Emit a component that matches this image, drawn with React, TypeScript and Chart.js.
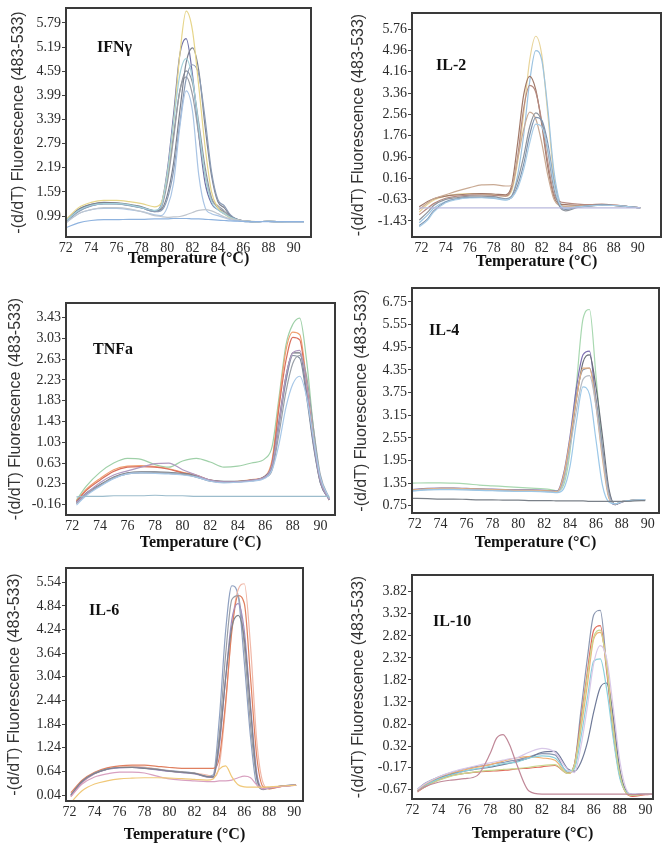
import React, { useEffect, useRef } from "react";
import { Chart, registerables } from "chart.js";

Chart.register(...registerables);

// ---------------- DATA ----------------
const xTickValues = [72, 74, 76, 78, 80, 82, 84, 86, 88, 90];
const xTickLabels = ["72", "74", "76", "78", "80", "82", "84", "86", "88", "90"];

// IFNγ
const ifnTemps = [72, 73, 74, 75, 76, 77, 78, 79, 79.5, 80, 80.5, 81, 81.5, 82, 82.5, 83, 83.5, 84, 84.5, 85, 86, 87, 88, 89, 90, 90.8];
const ifnA = [0.86, 1.15, 1.28, 1.32, 1.31, 1.27, 1.2, 1.12, 1.2, 1.9, 3.0, 4.1, 4.6, 4.3, 3.3, 2.2, 1.45, 1.2, 1.1, 0.98, 0.87, 0.85, 0.86, 0.85, 0.84, 0.84];
const ifnB = [0.9, 1.2, 1.33, 1.38, 1.38, 1.35, 1.3, 1.22, 1.3, 2.0, 3.3, 5.0, 6.08, 5.6, 4.2, 2.7, 1.6, 1.2, 1.05, 0.95, 0.87, 0.85, 0.86, 0.85, 0.84, 0.84];
const ifnC = [0.85, 1.12, 1.25, 1.3, 1.3, 1.26, 1.2, 1.12, 1.25, 2.1, 3.5, 5.0, 5.4, 4.5, 3.0, 1.8, 1.3, 1.15, 1.05, 0.95, 0.86, 0.85, 0.86, 0.85, 0.84, 0.84];
const ifnD = [0.88, 1.16, 1.28, 1.33, 1.32, 1.28, 1.22, 1.12, 1.15, 1.5, 2.3, 3.6, 4.8, 5.17, 4.6, 3.2, 2.0, 1.35, 1.2, 1.0, 0.87, 0.85, 0.86, 0.85, 0.84, 0.84];
const ifnE = [0.84, 1.1, 1.24, 1.29, 1.29, 1.25, 1.19, 1.1, 1.12, 1.4, 2.1, 3.3, 4.4, 4.75, 4.5, 3.4, 2.1, 1.4, 1.25, 1.02, 0.87, 0.85, 0.86, 0.85, 0.84, 0.84];
const ifnF = [0.87, 1.13, 1.26, 1.3, 1.3, 1.27, 1.2, 1.13, 1.22, 2.0, 3.3, 4.5, 4.9, 4.4, 3.2, 2.0, 1.35, 1.15, 1.05, 0.96, 0.86, 0.85, 0.86, 0.85, 0.84, 0.84];
const ifnG = [0.82, 1.05, 1.15, 1.18, 1.18, 1.15, 1.1, 1.02, 1.0, 1.2, 1.8, 3.2, 4.1, 3.6, 2.0, 1.2, 1.05, 1.0, 0.95, 0.9, 0.86, 0.85, 0.86, 0.85, 0.84, 0.84];
const ifnH = [0.86, 1.14, 1.27, 1.31, 1.3, 1.26, 1.19, 1.1, 1.18, 1.8, 2.9, 4.1, 4.45, 4.0, 3.0, 2.0, 1.4, 1.25, 1.12, 0.98, 0.87, 0.85, 0.86, 0.85, 0.84, 0.84];
const ifnI = [0.7, 0.82, 0.88, 0.9, 0.9, 0.91, 0.91, 0.92, 0.92, 0.92, 0.93, 0.93, 0.93, 0.92, 0.92, 0.91, 0.9, 0.89, 0.88, 0.87, 0.86, 0.85, 0.85, 0.85, 0.85, 0.85];
const ifnJ = [0.82, 1.05, 1.15, 1.2, 1.2, 1.17, 1.1, 1.0, 0.98, 0.96, 0.97, 0.98, 1.02, 1.08, 1.13, 1.15, 1.12, 1.05, 0.97, 0.92, 0.87, 0.85, 0.86, 0.85, 0.84, 0.84];
const ifnYTicks = [0.99, 1.59, 2.19, 2.79, 3.39, 3.99, 4.59, 5.19, 5.79];
const ifnYLabels = ["0.99", "1.59", "2.19", "2.79", "3.39", "3.99", "4.59", "5.19", "5.79"];

// IL-2
const il2Temps = [71.8, 72.5, 73, 74, 75, 76, 77, 78, 79, 79.5, 80, 80.5, 81, 81.5, 82, 82.5, 83, 83.5, 84, 85, 86, 87, 88, 89, 90.2];
const il2A = [-1.1, -0.8, -0.65, -0.5, -0.42, -0.4, -0.42, -0.45, -0.5, -0.3, 0.8, 2.6, 4.6, 5.49, 4.8, 2.6, 0.3, -0.75, -0.9, -0.88, -0.86, -0.84, -0.85, -0.88, -0.94];
const il2B = [-1.5, -1.2, -0.95, -0.7, -0.6, -0.55, -0.55, -0.58, -0.65, -0.5, 0.3, 1.8, 3.8, 4.95, 4.6, 2.8, 0.5, -0.7, -0.95, -0.9, -0.87, -0.84, -0.85, -0.88, -0.94];
const il2C = [-0.9, -0.7, -0.6, -0.5, -0.45, -0.42, -0.4, -0.42, -0.45, -0.1, 1.5, 3.3, 3.99, 3.5, 2.2, 0.6, -0.5, -0.8, -0.82, -0.85, -0.86, -0.84, -0.85, -0.88, -0.94];
const il2D = [-1.2, -0.95, -0.78, -0.58, -0.5, -0.46, -0.45, -0.47, -0.5, -0.2, 1.0, 2.8, 3.65, 3.4, 2.3, 0.8, -0.4, -0.7, -0.75, -0.8, -0.82, -0.8, -0.83, -0.88, -0.94];
const il2E = [-1.0, -0.75, -0.6, -0.45, -0.3, -0.18, -0.08, -0.07, -0.12, -0.1, 0.9, 2.0, 2.65, 2.4, 1.5, 0.3, -0.6, -0.85, -0.88, -0.86, -0.85, -0.84, -0.85, -0.88, -0.94];
const il2F = [-1.4, -1.1, -0.85, -0.62, -0.55, -0.5, -0.5, -0.52, -0.6, -0.5, 0.1, 1.0, 2.1, 2.62, 2.3, 1.2, -0.2, -0.9, -1.05, -0.92, -0.86, -0.83, -0.85, -0.88, -0.94];
const il2G = [-1.6, -1.35, -1.05, -0.72, -0.6, -0.55, -0.55, -0.56, -0.62, -0.55, -0.1, 0.7, 1.8, 2.45, 2.35, 1.5, 0.1, -0.85, -1.0, -0.9, -0.86, -0.83, -0.85, -0.88, -0.94];
const il2H = [-1.65, -1.4, -1.1, -0.75, -0.62, -0.57, -0.56, -0.57, -0.63, -0.55, -0.2, 0.5, 1.5, 2.2, 2.1, 1.3, 0.0, -0.8, -0.95, -0.9, -0.86, -0.84, -0.85, -0.88, -0.94];
const il2I = [-0.94, -0.94, -0.94, -0.94, -0.94, -0.94, -0.94, -0.94, -0.94, -0.94, -0.94, -0.94, -0.94, -0.94, -0.94, -0.94, -0.94, -0.94, -0.94, -0.94, -0.94, -0.94, -0.94, -0.94, -0.94];
const il2YTicks = [-1.43, -0.63, 0.16, 0.96, 1.76, 2.56, 3.36, 4.16, 4.96, 5.76];
const il2YLabels = ["-1.43", "-0.63", "0.16", "0.96", "1.76", "2.56", "3.36", "4.16", "4.96", "5.76"];

// TNFa
const tnfTemps = [72.3, 73, 74, 75, 76, 77, 78, 79, 80, 81, 82, 83, 84, 85, 86, 86.5, 87, 87.5, 88, 88.5, 89, 89.5, 90, 90.65];
const tnfA = [-0.12, 0.05, 0.21, 0.36, 0.44, 0.46, 0.46, 0.45, 0.43, 0.38, 0.3, 0.28, 0.28, 0.3, 0.38, 0.6, 1.45, 2.3, 2.75, 2.75, 2.0, 1.0, 0.25, -0.08];
const tnfB = [-0.1, 0.12, 0.33, 0.5, 0.57, 0.58, 0.56, 0.52, 0.45, 0.4, 0.3, 0.27, 0.28, 0.31, 0.38, 0.7, 1.8, 2.8, 3.15, 3.1, 2.2, 1.1, 0.3, -0.08];
const tnfC = [-0.11, 0.1, 0.3, 0.47, 0.55, 0.56, 0.55, 0.51, 0.44, 0.39, 0.3, 0.27, 0.27, 0.3, 0.37, 0.65, 1.7, 2.6, 3.05, 3.0, 2.1, 1.05, 0.28, -0.08];
const tnfD = [-0.08, 0.18, 0.45, 0.63, 0.72, 0.7, 0.6, 0.55, 0.67, 0.72, 0.65, 0.55, 0.57, 0.63, 0.72, 0.95, 1.9, 2.9, 3.3, 3.42, 2.6, 1.3, 0.35, -0.05];
const tnfE = [-0.13, 0.04, 0.25, 0.4, 0.48, 0.55, 0.62, 0.63, 0.5, 0.4, 0.3, 0.27, 0.27, 0.3, 0.37, 0.6, 1.4, 2.3, 2.75, 2.8, 2.1, 1.05, 0.28, -0.08];
const tnfF = [-0.18, 0.0, 0.18, 0.33, 0.42, 0.44, 0.43, 0.42, 0.4, 0.36, 0.28, 0.25, 0.26, 0.28, 0.34, 0.5, 1.0, 1.7, 2.15, 2.3, 1.9, 1.1, 0.35, -0.05];
const tnfG = [-0.14, 0.03, 0.2, 0.35, 0.43, 0.45, 0.45, 0.44, 0.42, 0.37, 0.29, 0.26, 0.27, 0.29, 0.35, 0.5, 1.2, 2.0, 2.55, 2.7, 2.3, 1.3, 0.4, -0.05];
const tnfH = [-0.15, 0.02, 0.19, 0.34, 0.42, 0.44, 0.44, 0.43, 0.41, 0.36, 0.28, 0.26, 0.27, 0.29, 0.36, 0.55, 1.35, 2.2, 2.7, 2.65, 1.9, 0.95, 0.25, -0.08];
const tnfI = [-0.02, -0.01, -0.01, 0, 0, 0, 0.01, 0, 0, -0.01, -0.01, -0.01, -0.01, -0.01, -0.01, -0.01, -0.01, -0.01, -0.01, -0.01, -0.01, -0.01, -0.01, -0.01];
const tnfYTicks = [-0.16, 0.23, 0.63, 1.03, 1.43, 1.83, 2.23, 2.63, 3.03, 3.43];
const tnfYLabels = ["-0.16", "0.23", "0.63", "1.03", "1.43", "1.83", "2.23", "2.63", "3.03", "3.43"];

// IL-4
const il4Temps = [71.8, 73, 74, 75, 76, 77, 78, 79, 80, 81, 82, 82.5, 83, 83.5, 84, 84.5, 85, 85.5, 86, 86.5, 87, 87.5, 88, 89, 89.8];
const il4A = [1.18, 1.21, 1.22, 1.22, 1.21, 1.2, 1.19, 1.18, 1.17, 1.17, 1.16, 1.15, 1.14, 1.6, 2.6, 3.9, 4.75, 4.85, 3.5, 2.2, 1.0, 0.78, 0.85, 0.9, 0.91];
const il4B = [1.16, 1.19, 1.2, 1.2, 1.19, 1.18, 1.17, 1.16, 1.15, 1.15, 1.14, 1.13, 1.12, 1.45, 2.4, 3.6, 4.55, 4.75, 3.9, 2.6, 1.2, 0.78, 0.86, 0.9, 0.91];
const il4C = [1.17, 1.2, 1.21, 1.21, 1.2, 1.19, 1.18, 1.17, 1.16, 1.16, 1.15, 1.14, 1.13, 1.55, 2.5, 3.6, 4.4, 4.4, 3.4, 2.0, 0.95, 0.8, 0.86, 0.9, 0.91];
const il4D = [1.15, 1.18, 1.19, 1.19, 1.18, 1.17, 1.16, 1.15, 1.14, 1.14, 1.13, 1.12, 1.11, 1.4, 2.3, 3.3, 4.1, 4.2, 3.4, 2.1, 1.0, 0.8, 0.86, 0.9, 0.91];
const il4E = [1.14, 1.17, 1.18, 1.18, 1.17, 1.16, 1.15, 1.14, 1.13, 1.13, 1.12, 1.11, 1.1, 1.2, 1.8, 3.0, 3.9, 3.7, 2.5, 1.3, 0.85, 0.8, 0.86, 0.9, 0.91];
const il4F = [1.35, 1.36, 1.36, 1.35, 1.33, 1.3, 1.28, 1.26, 1.24, 1.22, 1.2, 1.18, 1.15, 1.3, 2.2, 4.0, 5.7, 5.95, 4.2, 2.3, 1.0, 0.8, 0.86, 0.9, 0.91];
const il4G = [1.17, 1.2, 1.21, 1.21, 1.2, 1.19, 1.18, 1.17, 1.16, 1.16, 1.15, 1.14, 1.13, 1.5, 2.5, 3.7, 4.35, 4.4, 3.6, 2.3, 1.1, 0.8, 0.86, 0.9, 0.91];
const il4H = [0.95, 0.94, 0.93, 0.93, 0.92, 0.91, 0.91, 0.9, 0.9, 0.89, 0.89, 0.89, 0.88, 0.88, 0.88, 0.88, 0.88, 0.87, 0.87, 0.87, 0.87, 0.87, 0.87, 0.88, 0.89];
const il4YTicks = [0.75, 1.35, 1.95, 2.55, 3.15, 3.75, 4.35, 4.95, 5.55, 6.15];
const il4YLabels = ["0.75", "1.35", "1.95", "2.55", "3.15", "3.75", "4.35", "4.95", "5.55", "6.75"];

// IL-6
const il6Temps = [72.1, 73, 74, 75, 76, 77, 78, 79, 80, 81, 82, 83, 83.5, 84, 84.5, 85, 85.5, 86, 86.5, 87, 87.5, 88, 89, 90.15];
const il6A = [0.05, 0.4, 0.6, 0.7, 0.74, 0.75, 0.73, 0.7, 0.66, 0.63, 0.6, 0.52, 0.55, 2.0, 4.2, 5.35, 5.1, 3.4, 1.5, 0.3, 0.2, 0.23, 0.27, 0.29];
const il6B = [0.0, 0.35, 0.58, 0.7, 0.75, 0.77, 0.75, 0.7, 0.65, 0.62, 0.6, 0.55, 0.5, 0.8, 2.3, 4.3, 5.25, 5.4, 3.8, 1.4, 0.35, 0.2, 0.26, 0.29];
const il6C = [0.02, 0.38, 0.6, 0.7, 0.74, 0.75, 0.73, 0.69, 0.65, 0.62, 0.6, 0.5, 0.5, 1.6, 3.6, 5.0, 5.1, 3.8, 1.8, 0.45, 0.18, 0.22, 0.27, 0.29];
const il6D = [0.03, 0.37, 0.58, 0.69, 0.73, 0.74, 0.72, 0.68, 0.64, 0.61, 0.58, 0.5, 0.48, 1.3, 3.0, 4.5, 4.9, 4.2, 2.3, 0.6, 0.2, 0.22, 0.27, 0.29];
const il6E = [0.04, 0.39, 0.59, 0.7, 0.74, 0.74, 0.72, 0.69, 0.65, 0.62, 0.59, 0.51, 0.5, 1.4, 3.0, 4.3, 4.6, 4.0, 2.2, 0.5, 0.19, 0.22, 0.27, 0.29];
const il6F = [0.1, 0.42, 0.62, 0.73, 0.78, 0.8, 0.8, 0.77, 0.74, 0.72, 0.72, 0.72, 0.72, 1.0, 2.4, 4.2, 5.1, 4.9, 3.0, 1.0, 0.25, 0.2, 0.26, 0.3];
const il6G = [-0.15, 0.15, 0.32, 0.4, 0.45, 0.47, 0.48, 0.48, 0.47, 0.46, 0.44, 0.42, 0.45, 0.7, 0.78, 0.5, 0.3, 0.25, 0.24, 0.24, 0.24, 0.25, 0.27, 0.29];
const il6H = [0.0, 0.32, 0.5, 0.58, 0.62, 0.62, 0.6, 0.52, 0.45, 0.42, 0.4, 0.38, 0.38, 0.4, 0.4, 0.42, 0.48, 0.52, 0.48, 0.3, 0.2, 0.22, 0.26, 0.29];
const il6YTicks = [0.04, 0.64, 1.24, 1.84, 2.44, 3.04, 3.64, 4.24, 4.84, 5.44];
const il6YLabels = ["0.04", "0.64", "1.24", "1.84", "2.44", "3.04", "3.64", "4.24", "4.84", "5.54"];

// IL-10
const il10Temps = [72.4, 73, 74, 75, 76, 77, 78, 78.5, 79, 79.5, 80, 81, 82, 83, 84, 84.5, 85, 85.5, 86, 86.5, 87, 87.5, 88, 88.5, 89, 90, 90.5];
const il10A = [-0.65, -0.52, -0.38, -0.28, -0.2, -0.14, -0.1, -0.07, -0.05, -0.02, 0.0, 0.08, 0.15, 0.12, -0.28, -0.1, 1.1, 2.3, 3.3, 3.4, 2.1, 0.7, -0.3, -0.72, -0.77, -0.76, -0.77];
const il10B = [-0.72, -0.6, -0.45, -0.35, -0.3, -0.27, -0.25, -0.24, -0.23, -0.22, -0.2, -0.18, -0.15, -0.12, -0.3, -0.1, 0.9, 2.0, 2.95, 3.05, 2.0, 0.6, -0.35, -0.75, -0.82, -0.78, -0.77];
const il10C = [-0.68, -0.55, -0.4, -0.3, -0.22, -0.16, -0.1, -0.06, -0.02, 0.02, 0.05, 0.08, 0.05, 0.0, -0.3, -0.15, 0.7, 1.7, 2.75, 2.9, 2.2, 0.9, -0.2, -0.7, -0.78, -0.77, -0.77];
const il10D = [-0.7, -0.58, -0.43, -0.33, -0.25, -0.19, -0.14, -0.11, -0.08, -0.06, -0.05, 0.05, 0.1, 0.05, -0.25, -0.2, 0.5, 1.4, 2.25, 2.3, 1.6, 0.5, -0.4, -0.72, -0.78, -0.77, -0.77];
const il10E = [-0.7, -0.58, -0.42, -0.32, -0.25, -0.2, -0.16, -0.13, -0.1, -0.07, -0.03, 0.05, 0.18, 0.2, -0.2, -0.25, -0.05, 0.4, 1.1, 1.65, 1.75, 1.0, -0.2, -0.7, -0.78, -0.77, -0.77];
const il10F = [-0.66, -0.53, -0.38, -0.27, -0.19, -0.12, -0.06, -0.03, 0.0, 0.03, 0.05, 0.18, 0.27, 0.18, -0.22, -0.28, 0.3, 1.2, 2.2, 2.6, 2.3, 1.2, 0.0, -0.65, -0.77, -0.77, -0.77];
const il10G = [-0.7, -0.6, -0.5, -0.45, -0.42, -0.35, 0.15, 0.5, 0.58, 0.35, -0.05, -0.7, -0.77, -0.77, -0.77, -0.77, -0.77, -0.77, -0.77, -0.77, -0.77, -0.77, -0.77, -0.77, -0.78, -0.77, -0.77];
const il10H = [-0.7, -0.6, -0.46, -0.36, -0.3, -0.26, -0.23, -0.22, -0.21, -0.2, -0.19, -0.16, -0.12, -0.1, -0.3, -0.12, 0.8, 1.9, 2.8, 2.95, 2.1, 0.7, -0.3, -0.74, -0.8, -0.77, -0.77];
const il10YTicks = [-0.67, -0.17, 0.32, 0.82, 1.32, 1.82, 2.32, 2.82, 3.32, 3.82];
const il10YLabels = ["-0.67", "-0.17", "0.32", "0.82", "1.32", "1.82", "2.32", "2.82", "3.32", "3.82"];

// ---------------- LAYOUT / STYLE ----------------
const LEFT_SPACE = 66;
const TOP_SPACE = 10;
const RIGHT_SPACE = 8;
const BOTTOM_SPACE = 46;
const SERIF = '"Liberation Serif", "Times New Roman", serif';
const SANS = '"Liberation Sans", Arial, sans-serif';
const Y_TITLE_SIZE = 16;
const TICK_SIZE = 14;

type PanelCfg = {
  name: string;
  frame: { l: number; t: number; r: number; b: number };
  xMin: number; xMax: number; yMin: number; yMax: number;
  temps: number[];
  curves: number[][];
  colors: string[];
  yTicks: number[];
  yLabels: string[];
  labelDx: number; labelDy: number;
  yTitleGap: number;
  xTitleGap: number;
};

const panels: PanelCfg[] = [
  {
    name: "IFNγ", frame: { l: 66, t: 8, r: 311, b: 237 },
    xMin: 72.01, xMax: 91.36, yMin: 0.47, yMax: 6.16,
    temps: ifnTemps,
    curves: [ifnI, ifnJ, ifnG, ifnF, ifnB, ifnE, ifnD, ifnH, ifnA, ifnC],
    colors: ["#8fb3df", "#c0c6ce", "#a9c4e4", "#a5d2dc", "#e6d58a", "#8a9bb5", "#7d8290", "#9a9ea6", "#8e939c", "#6f72a6"],
    yTicks: ifnYTicks, yLabels: ifnYLabels, labelDx: 31, labelDy: 44, yTitleGap: 47, xTitleGap: 22,
  },
  {
    name: "IL-2", frame: { l: 412, t: 13, r: 661, b: 237 },
    xMin: 71.2, xMax: 91.93, yMin: -2.03, yMax: 6.36,
    temps: il2Temps,
    curves: [il2I, il2H, il2G, il2F, il2E, il2D, il2C, il2B, il2A],
    colors: ["#b8b8dd", "#a8cce6", "#7f93ad", "#8f949c", "#c9aa94", "#b58a80", "#a07868", "#9cc3e0", "#e8d49a"],
    yTicks: il2YTicks, yLabels: il2YLabels, labelDx: 24, labelDy: 57, yTitleGap: 53, xTitleGap: 25,
  },
  {
    name: "TNFa", frame: { l: 66, t: 303, r: 335, b: 515 },
    xMin: 71.54, xMax: 91.06, yMin: -0.37, yMax: 3.71,
    temps: tnfTemps,
    curves: [tnfI, tnfF, tnfE, tnfG, tnfH, tnfA, tnfC, tnfB, tnfD],
    colors: ["#9cbccc", "#a8c8e8", "#b09ac0", "#9aa0a8", "#7f8a9e", "#6e737d", "#d9705f", "#f0a070", "#9fd0a8"],
    yTicks: tnfYTicks, yLabels: tnfYLabels, labelDx: 27, labelDy: 51, yTitleGap: 50, xTitleGap: 28,
  },
  {
    name: "IL-4", frame: { l: 412, t: 288, r: 659, b: 513 },
    xMin: 71.79, xMax: 90.87, yMin: 0.56, yMax: 6.52,
    temps: il4Temps,
    curves: [il4H, il4E, il4D, il4C, il4G, il4B, il4A, il4F],
    colors: ["#7a8088", "#9cc8e8", "#b8bcc4", "#e8b080", "#8894aa", "#6a6e78", "#7d6fb0", "#a8d8b0"],
    yTicks: il4YTicks, yLabels: il4YLabels, labelDx: 17, labelDy: 47, yTitleGap: 50, xTitleGap: 30,
  },
  {
    name: "IL-6", frame: { l: 66, t: 568, r: 303, b: 801 },
    xMin: 71.71, xMax: 90.7, yMin: -0.11, yMax: 5.8,
    temps: il6Temps,
    curves: [il6G, il6H, il6E, il6D, il6C, il6F, il6B, il6A],
    colors: ["#f0c878", "#d8a0c0", "#7e838c", "#a08cc0", "#9a9ea6", "#e08060", "#f0b8a8", "#8fa0c0"],
    yTicks: il6YTicks, yLabels: il6YLabels, labelDx: 23, labelDy: 47, yTitleGap: 51, xTitleGap: 34,
  },
  {
    name: "IL-10", frame: { l: 412, t: 575, r: 653, b: 799 },
    xMin: 71.97, xMax: 90.57, yMin: -0.88, yMax: 4.2,
    temps: il10Temps,
    curves: [il10G, il10F, il10H, il10D, il10E, il10C, il10B, il10A],
    colors: ["#c08898", "#d8c8e8", "#c8d890", "#8cd0dc", "#6f7a98", "#f0b070", "#e06a5a", "#8a96b0"],
    yTicks: il10YTicks, yLabels: il10YLabels, labelDx: 21, labelDy: 51, yTitleGap: 53, xTitleGap: 35,
  },
];

const framePlugin = {
  id: "frameLabel",
  afterDatasetsDraw(chart: any, _args: any, opts: any) {
    const { ctx, chartArea: a } = chart;
    ctx.save();
    ctx.strokeStyle = "#3a3a3a";
    ctx.lineWidth = 2;
    ctx.strokeRect(a.left, a.top, a.right - a.left, a.bottom - a.top);
    ctx.fillStyle = "#111";
    ctx.font = `bold 16px ${SERIF}`;
    ctx.textAlign = "left";
    ctx.textBaseline = "alphabetic";
    ctx.fillText(opts.text, a.left + opts.dx, a.top + opts.dy);
    ctx.restore();
  },
};

function Panel({ cfg }: { cfg: PanelCfg }) {
  const ref = useRef<HTMLCanvasElement>(null);
  const W = cfg.frame.r - cfg.frame.l + LEFT_SPACE + RIGHT_SPACE;
  const H = cfg.frame.b - cfg.frame.t + TOP_SPACE + BOTTOM_SPACE;

  useEffect(() => {
    const yTitleLH = Y_TITLE_SIZE * 1.2;
    const xTitleLH = 16 * 1.2;
    const chart = new Chart(ref.current as HTMLCanvasElement, {
      type: "line",
      data: {
        datasets: cfg.curves.map((c, i) => ({
          data: cfg.temps.map((t, j) => ({ x: t, y: c[j] })),
          borderColor: cfg.colors[i],
          borderWidth: 1.2,
          pointRadius: 0,
          fill: false,
          cubicInterpolationMode: "monotone" as const,
        })),
      },
      options: {
        responsive: false,
        animation: false,
        devicePixelRatio: 1,
        layout: { padding: { left: 0, top: TOP_SPACE, right: RIGHT_SPACE, bottom: 0 } },
        plugins: {
          legend: { display: false },
          tooltip: { enabled: false },
          frameLabel: { text: cfg.name, dx: cfg.labelDx, dy: cfg.labelDy },
        } as any,
        scales: {
          x: {
            type: "linear",
            min: cfg.xMin,
            max: cfg.xMax,
            afterBuildTicks: (s: any) => { s.ticks = xTickValues.map((v) => ({ value: v })); },
            afterFit: (s: any) => { s.height = BOTTOM_SPACE; },
            grid: { display: false, drawTicks: false },
            border: { display: false },
            ticks: {
              autoSkip: false, maxRotation: 0, minRotation: 0, padding: 3,
              color: "#2a2a2a", font: { family: SERIF, size: TICK_SIZE },
              callback: (_v: any, i: number) => xTickLabels[i],
            },
            title: {
              display: true, text: "Temperature (°C)", color: "#111",
              font: { family: SERIF, size: 16, weight: "bold" },
              padding: { top: 0, bottom: Math.max(0, BOTTOM_SPACE - xTitleLH / 2 - cfg.xTitleGap) },
            },
          },
          y: {
            type: "linear",
            min: cfg.yMin,
            max: cfg.yMax,
            afterBuildTicks: (s: any) => { s.ticks = cfg.yTicks.map((v) => ({ value: v })); },
            afterFit: (s: any) => { s.width = LEFT_SPACE; },
            grid: { display: true, drawOnChartArea: false, drawTicks: true, tickLength: 4, color: "#444", lineWidth: 1 },
            border: { display: false },
            ticks: {
              autoSkip: false, padding: 1, color: "#2a2a2a", font: { family: SERIF, size: TICK_SIZE },
              callback: (_v: any, i: number) => cfg.yLabels[i],
            },
            title: {
              display: true, text: "-(d/dT) Fluorescence (483-533)", color: "#333",
              font: { family: SANS, size: Y_TITLE_SIZE },
              padding: { top: Math.max(0, LEFT_SPACE - cfg.yTitleGap - yTitleLH / 2), bottom: 0 },
            },
          },
        },
      } as any,
      plugins: [framePlugin as any],
    });
    return () => chart.destroy();
  }, [cfg]);

  return (
    <canvas
      ref={ref}
      width={W}
      height={H}
      style={{ position: "absolute", left: cfg.frame.l - LEFT_SPACE, top: cfg.frame.t - TOP_SPACE, width: W, height: H }}
    />
  );
}

export default function App() {
  return (
    <div style={{ position: "fixed", left: 0, top: 0, width: 672, height: 852, background: "#ffffff", overflow: "hidden" }}>
      {panels.map((p) => (
        <Panel key={p.name} cfg={p} />
      ))}
    </div>
  );
}
